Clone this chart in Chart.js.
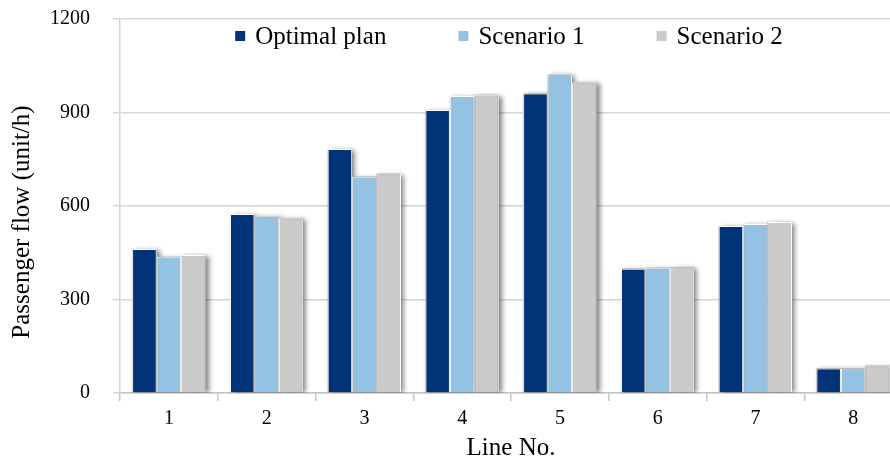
<!DOCTYPE html>
<html>
<head>
<meta charset="utf-8">
<script src="https://cdn.jsdelivr.net/npm/chart.js@4.4.1/dist/chart.umd.min.js"></script>
<style>
  html, body { margin: 0; padding: 0; background: #ffffff; overflow: hidden; }
  #wrap { width: 890px; height: 458px; overflow: hidden; position: relative; }
  canvas { display: block; }
</style>
</head>
<body>
<div id="wrap"><canvas id="chart" width="902" height="458"></canvas></div>
<script>
// Passenger flow per line (unit/h)
const lineNumbers = ['1', '2', '3', '4', '5', '6', '7', '8'];
const optimalPlan = [462, 574, 783, 908, 961, 399, 536, 79];
const scenario1   = [437, 567, 694, 953, 1023, 402, 542, 79];
const scenario2   = [443, 561, 704, 957, 997, 403, 549, 88];
const yTicks = [0, 300, 600, 900, 1200];

const seriesNames  = ['Optimal plan', 'Scenario 1', 'Scenario 2'];
const seriesColors = ['#003378', '#93c2e3', '#cacaca'];
const yAxisTitle = 'Passenger flow (unit/h)';

const SERIF = '"Liberation Serif", "Times New Roman", serif';

// Soft drop shadow painted behind every bar
const barShadow = {
  id: 'barShadow',
  beforeDatasetsDraw(chart) {
    const ctx = chart.ctx;
    const area = chart.chartArea;
    ctx.save();
    ctx.beginPath();
    ctx.rect(area.left, area.top - 5, area.right - area.left + 10, area.bottom - area.top + 5);
    ctx.clip();
    ctx.shadowColor = 'rgba(0,0,0,0.5)';
    ctx.shadowBlur = 5;
    ctx.shadowOffsetX = 3;
    ctx.shadowOffsetY = 1;
    ctx.fillStyle = '#888888';
    chart.getSortedVisibleDatasetMetas().forEach(meta => {
      meta.data.forEach(bar => {
        const p = bar.getProps(['x', 'y', 'base', 'width'], true);
        ctx.fillRect(p.x - p.width / 2, p.y, p.width, p.base - p.y);
      });
    });
    ctx.restore();
  }
};

// Legend row drawn inside the plot, centred over it, plus the vertical axis title
const innerLegend = {
  id: 'innerLegend',
  afterDraw(chart) {
    const ctx = chart.ctx;
    const area = chart.chartArea;
    const box = 10, boxGap = 10, itemGap = 72, baseline = 44;
    ctx.save();
    ctx.font = '25px ' + SERIF;
    const items = chart.data.datasets.map(ds => ({
      label: ds.label, color: ds.backgroundColor, w: ctx.measureText(ds.label).width
    }));
    const total = items.reduce((s, it) => s + box + boxGap + it.w, 0) + itemGap * (items.length - 1);
    let x = (area.left + area.right) / 2 - total / 2 - 2;
    ctx.textBaseline = 'alphabetic';
    ctx.textAlign = 'left';
    items.forEach(it => {
      ctx.fillStyle = it.color;
      ctx.fillRect(x, baseline - 13, box, box);
      x += box + boxGap;
      ctx.fillStyle = '#000000';
      ctx.fillText(it.label, x, baseline);
      x += it.w + itemGap;
    });

    // axis title, rotated, a little below the plot's middle
    ctx.translate(22.5, (area.top + area.bottom) / 2 + 16);
    ctx.rotate(-Math.PI / 2);
    ctx.textAlign = 'center';
    ctx.textBaseline = 'middle';
    ctx.fillStyle = '#000000';
    ctx.fillText(yAxisTitle, 0, 0);
    ctx.restore();
  }
};

const seriesData = [optimalPlan, scenario1, scenario2];

new Chart(document.getElementById('chart'), {
  type: 'bar',
  data: {
    labels: lineNumbers,
    datasets: seriesData.map((values, i) => ({
      label: seriesNames[i],
      data: values,
      backgroundColor: seriesColors[i],
      borderColor: '#ffffff',
      borderWidth: 1,
      borderSkipped: 'bottom',
      categoryPercentage: 0.75,
      barPercentage: 1.0
    }))
  },
  plugins: [barShadow, innerLegend],
  options: {
    responsive: false,
    animation: false,
    devicePixelRatio: 1,
    layout: { padding: { left: 0, right: 0, top: 19, bottom: 0 } },
    plugins: {
      legend: { display: false },
      tooltip: { enabled: false }
    },
    scales: {
      x: {
        grid: {
          offset: true,
          drawOnChartArea: false,
          drawTicks: true,
          tickLength: 8,
          color: '#c4c4c4',
          lineWidth: 1.5
        },
        border: { color: '#c4c4c4', width: 1.5 },
        ticks: {
          color: '#000000',
          font: { family: SERIF, size: 20 },
          padding: 6
        },
        title: {
          display: true,
          text: 'Line No.',
          color: '#000000',
          font: { family: SERIF, size: 25, lineHeight: 1 },
          padding: { top: 0, bottom: -3 }
        },
        afterFit(scale) { scale.height = 65; }
      },
      y: {
        min: 0,
        max: 1200,
        afterBuildTicks(scale) { scale.ticks = yTicks.map(v => ({ value: v })); },
        grid: {
          color: '#d6d6d6',
          lineWidth: 1.5,
          drawTicks: true,
          tickLength: 7
        },
        border: { color: '#d6d6d6', width: 1.5 },
        ticks: {
          color: '#000000',
          font: { family: SERIF, size: 20 },
          padding: 23,
          callback: value => String(value)
        },
        title: { display: false },
        afterFit(scale) {
          scale.width = 120;
          scale.paddingTop = 0;
          scale.paddingBottom = 0;
        }
      }
    }
  }
});
</script>
</body>
</html>
